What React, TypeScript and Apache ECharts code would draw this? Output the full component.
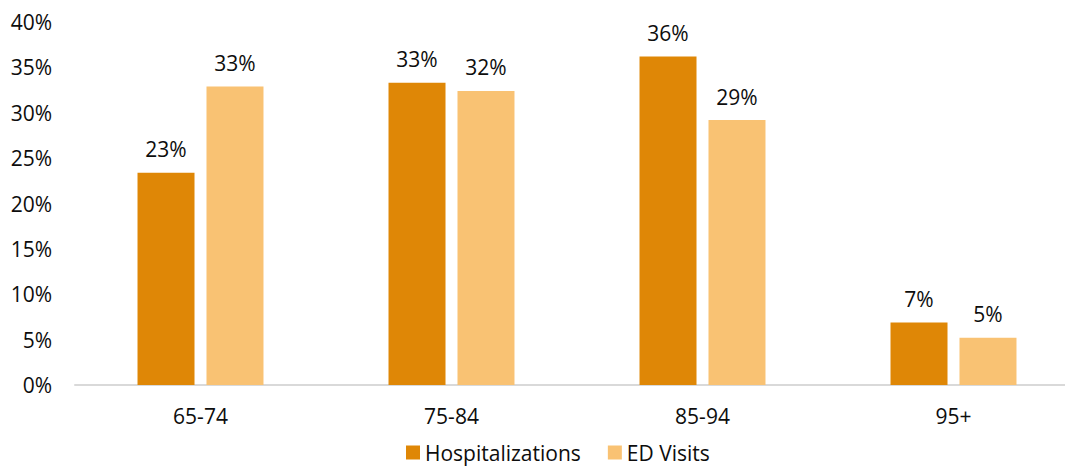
import React, { useEffect, useRef } from "react";
import * as echarts from "echarts";

const categories = ["65-74", "75-84", "85-94", "95+"];
const hospitalizations = [23.4, 33.3, 36.2, 6.9];
const edVisits = [32.9, 32.4, 29.2, 5.2];
const hospLabels = ["23%", "33%", "36%", "7%"];
const edLabels = ["33%", "32%", "29%", "5%"];
const yTicks = [0, 5, 10, 15, 20, 25, 30, 35, 40];

const FONT = "'Open Sans', 'Noto Sans', sans-serif";
const TXT = "#0d0d0d";
const FS = 21;

export default function App() {
  const ref = useRef<HTMLDivElement>(null);
  useEffect(() => {
    if (!ref.current) return;
    const chart = echarts.init(ref.current, null, { renderer: "svg" });
    chart.setOption({
      animation: false,
      textStyle: { fontFamily: FONT },
      grid: { left: 75, right: 0, top: 22, bottom: 83, containLabel: false },
      legend: {
        bottom: 0,
        left: 406 - 5,
        itemWidth: 14,
        itemHeight: 14,
        itemGap: 27,
        icon: "rect",
        textStyle: { fontFamily: FONT, fontSize: FS, color: TXT, padding: [0, 0, 0, 0] },
        data: ["Hospitalizations", "ED Visits"],
      },
      xAxis: {
        type: "category",
        data: categories,
        axisLine: { lineStyle: { color: "#d9d9d9", width: 2 } },
        axisTick: { show: false },
        axisLabel: { fontFamily: FONT, fontSize: FS, color: TXT, margin: 20 },
      },
      yAxis: {
        type: "value",
        min: yTicks[0],
        max: yTicks[yTicks.length - 1],
        interval: 5,
        splitLine: { show: false },
        axisLine: { show: false },
        axisTick: { show: false },
        axisLabel: {
          fontFamily: FONT,
          fontSize: FS,
          color: TXT,
          margin: 23,
          formatter: (v: number) => `${v}%`,
        },
      },
      series: [
        {
          name: "Hospitalizations",
          type: "bar",
          data: hospitalizations,
          barWidth: 57,
          barGap: "21%",
          itemStyle: { color: "#DF8706" },
          label: {
            show: true,
            position: "top",
            distance: 13,
            fontFamily: FONT,
            fontSize: FS,
            color: TXT,
            formatter: (p: any) => hospLabels[p.dataIndex],
          },
        },
        {
          name: "ED Visits",
          type: "bar",
          data: edVisits,
          barWidth: 57,
          itemStyle: { color: "#F9C273" },
          label: {
            show: true,
            position: "top",
            distance: 13,
            fontFamily: FONT,
            fontSize: FS,
            color: TXT,
            formatter: (p: any) => edLabels[p.dataIndex],
          },
        },
      ],
    });
    return () => chart.dispose();
  }, []);
  return (
    <div
      ref={ref}
      style={{ position: "fixed", left: 0, top: 0, width: 1079, height: 468, background: "#fff" }}
    />
  );
}
